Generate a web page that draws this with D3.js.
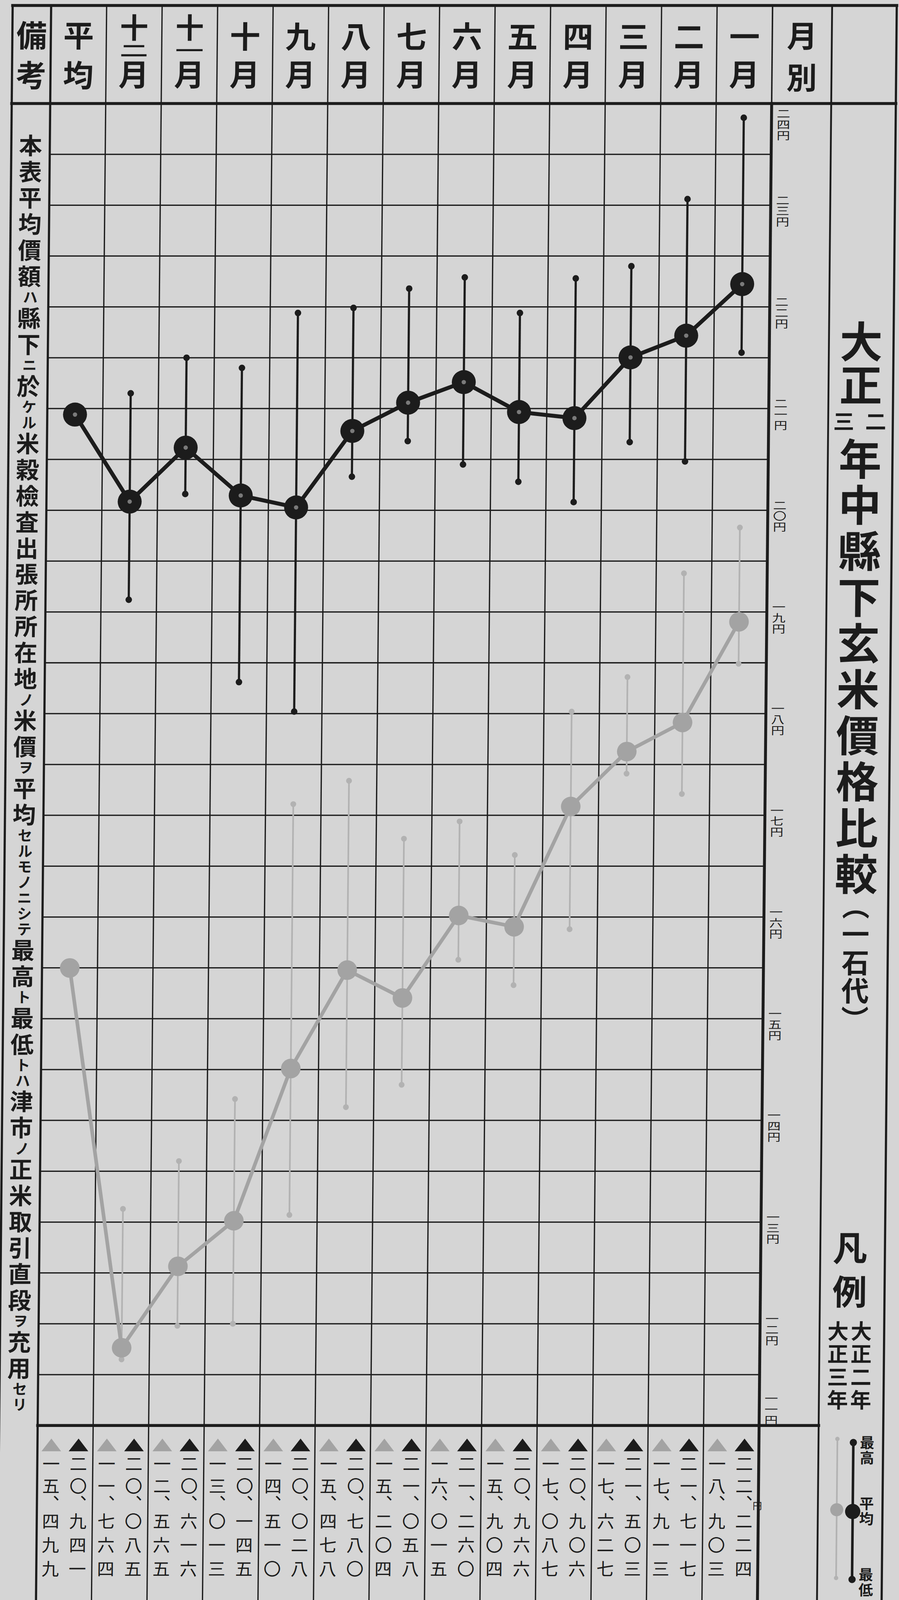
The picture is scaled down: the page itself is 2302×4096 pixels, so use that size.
<!DOCTYPE html>
<html lang="ja"><head><meta charset="utf-8">
<script src="https://cdn.jsdelivr.net/npm/d3@7/dist/d3.min.js"></script>
<style>
html,body{margin:0;padding:0;background:#d5d5d5;overflow:hidden}
svg{display:block}
</style></head><body>
<svg id="chart" width="2302" height="4096" viewBox="0 0 2302 4096"></svg>
<script>
// ---------------- data ----------------
const months = ['平均','十二月','十一月','十月','九月','八月','七月','六月','五月','四月','三月','二月','一月'];
// 大正二年 (dark)
const avgT2 = [20.941, 20.085, 20.616, 20.145, 20.028, 20.780, 21.058, 21.260, 20.966, 20.906, 21.503, 21.717, 22.224];
const maxT2 = [null, 21.15, 21.50, 21.40, 21.94, 21.99, 22.18, 22.29, 21.94, 22.28, 22.40, 23.06, 23.86];
const minT2 = [null, 19.12, 20.16, 18.31, 18.02, 20.33, 20.68, 20.45, 20.28, 20.08, 20.67, 20.48, 21.55];
// 大正三年 (light)
const avgT3 = [15.499, 11.764, 12.565, 13.013, 14.510, 15.478, 15.204, 16.015, 15.904, 17.087, 17.627, 17.913, 18.903];
const maxT3 = [null, 13.13, 13.60, 14.21, 17.11, 17.34, 16.77, 16.94, 16.61, 18.02, 18.36, 19.38, 19.83];
const minT3 = [null, 11.65, 11.98, 12.00, 13.07, 14.13, 14.35, 15.58, 15.33, 15.88, 17.41, 17.21, 18.49];
// y axis
const yTickValues = [24,23,22,21,20,19,18,17,16,15,14,13,12,11];
const yTickLabels = ['二四円','二三円','二二円','二一円','二〇円','一九円','一八円','一七円','一六円','一五円','一四円','一三円','一二円','一一円'];
// texts
const titleMain1 = '大正';
const titleSmall = ['三','二'];
const titleMain2 = '年中縣下玄米價格比較';
const titleUnit = '（一石代）';
const remark = '本表平均價額ハ縣下ニ於ケル米穀檢査出張所所在地ノ米價ヲ平均セルモノニシテ最高ト最低トハ津市ノ正米取引直段ヲ充用セリ';
const legendHead = '凡例';
const legendYears = ['大正三年','大正二年'];
const legendItems = ['最高','平均','最低'];
const kanjiDigits = ['〇','一','二','三','四','五','六','七','八','九'];

// ---------------- setup ----------------
const S = 2302/2476, SH = -0.0095;
const INK = '#1c1c1c', PAPER = '#d5d5d5';
const LIGHT = '#a3a3a3', LIGHT_W = '#b2b2b2';
const FONT = "'Noto Sans CJK JP','Noto Sans CJK SC',sans-serif";

const svg = d3.select('#chart');
svg.append('rect').attr('width',2302).attr('height',4096).attr('fill',PAPER);
const g = svg.append('g').attr('transform',`scale(${S}) matrix(1,0,${SH},1,0,0)`)
  .attr('font-family',FONT);

const L0=35, L1=141, L14=2128, L15=2292, L16=2470, TOP=15, HB=285, PB=3925, BOT=4420;

const x = d3.scaleBand().domain(months).range([L1,L14]);
const bw = x.bandwidth();
const xc = m => x(m)+bw/2;
const y = d3.scaleLinear().domain([11,24]).range([PB,HB]);

function ln(x1,y1,x2,y2,w,c){ g.append('line').attr('x1',x1).attr('y1',y1).attr('x2',x2).attr('y2',y2)
  .attr('stroke',c||INK).attr('stroke-width',w).attr('stroke-linecap','square'); }
// one upright character, its cell centred on (cx,cy)
function ch(t,cx,cy,size,opt){ opt=opt||{};
  const e = g.append('text').attr('x',cx).attr('y',cy).attr('font-size',size)
    .style('writing-mode','vertical-rl').attr('text-anchor','middle')
    .attr('fill',opt.fill||INK).attr('font-weight',opt.weight||400).text(t);
  if(opt.sy) e.attr('transform',`translate(${cx},${cy}) scale(1,${opt.sy}) translate(${-cx},${-cy})`);
  return e; }

// ---------------- grid ----------------
g.append('g').selectAll('line').data(d3.range(11.5,24,0.5)).join('line')
  .attr('x1',L1).attr('x2',L14).attr('y1',d=>y(d)).attr('y2',d=>y(d))
  .attr('stroke',INK).attr('stroke-width',3.5);
g.append('g').selectAll('line').data(months.slice(1)).join('line')
  .attr('x1',d=>x(d)).attr('x2',d=>x(d)).attr('y1',TOP).attr('y2',BOT)
  .attr('stroke',INK).attr('stroke-width',3.5);

// borders
ln(L0,TOP,L16,TOP,8);
ln(L0,TOP,L0,BOT,6);
ln(L16,TOP,L16,BOT,6);
ln(L0,HB,L16,HB,8);
ln(L1,TOP,L1,BOT,6);
ln(L14,TOP,L14,HB,4);
ln(L14,HB,L14,BOT,8);
ln(L15,TOP,L15,BOT,5);
ln(L1,PB,L15,PB,8);

// ---------------- header ----------------
const HW = 700;
ch('備',(L0+L1)/2,97,84,{weight:HW}); ch('考',(L0+L1)/2,207,84,{weight:HW});
months.forEach(m=>{
  const cx = xc(m);
  if(m.endsWith('月')){
    const first = m.slice(0,m.length-1);
    if(first.length===2){
      ch(first[0],cx,76,78,{weight:HW});
      ch(first[1],cx,139,78,{weight:HW,sy:0.55});
    } else ch(first,cx,100,84,{weight:HW});
    ch('月',cx,205,84,{weight:HW});
  } else { ch(m[0],cx,97,84,{weight:HW}); ch(m[1],cx,207,84,{weight:HW}); }
});
ch('月',(L14+L15)/2,98,84,{weight:HW}); ch('別',(L14+L15)/2,213,84,{weight:HW});

// ---------------- y axis labels ----------------
yTickValues.forEach((v,i)=>{
  const cy = v===24 ? y(v)+58 : (v===11 ? y(v)-45 : y(v)+16);
  [...yTickLabels[i]].forEach((c,k)=>ch(c,L14+33,cy+(k-1)*30,37,{sy:0.79}));
});

// ---------------- series ----------------
function drawSeries(avg,mx,mn,o){
  const data = months.map((m,i)=>({m,v:avg[i],hi:mx[i],lo:mn[i]}));
  const sg = g.append('g');
  const wd = data.filter(d=>d.hi!=null);
  sg.selectAll('line.w').data(wd).join('line').attr('class','w')
    .attr('x1',d=>xc(d.m)).attr('x2',d=>xc(d.m)).attr('y1',d=>y(d.hi)).attr('y2',d=>y(d.lo))
    .attr('stroke',o.wcol).attr('stroke-width',o.ww);
  sg.selectAll('circle.hi').data(wd).join('circle').attr('class','hi').attr('cx',d=>xc(d.m)).attr('cy',d=>y(d.hi)).attr('r',o.er).attr('fill',o.wcol);
  sg.selectAll('circle.lo').data(wd).join('circle').attr('class','lo').attr('cx',d=>xc(d.m)).attr('cy',d=>y(d.lo)).attr('r',o.er).attr('fill',o.wcol);
  sg.append('path').datum(data).attr('d',d3.line().x(d=>xc(d.m)).y(d=>y(d.v)))
    .attr('fill','none').attr('stroke',o.col).attr('stroke-width',o.lw).attr('stroke-linejoin','round');
  sg.selectAll('circle.p').data(data).join('circle').attr('class','p')
    .attr('cx',d=>xc(d.m)).attr('cy',d=>y(d.v)).attr('r',o.r).attr('fill',o.col);
  if(o.hl) sg.selectAll('circle.h').data(data).join('circle').attr('class','h')
    .attr('cx',d=>xc(d.m)).attr('cy',d=>y(d.v)).attr('r',6).attr('fill',o.hl);
}
drawSeries(avgT3,maxT3,minT3,{col:LIGHT,wcol:LIGHT_W,lw:10,ww:4.5,r:27,er:8});
drawSeries(avgT2,maxT2,minT2,{col:INK,wcol:INK,lw:11,ww:6,r:33,er:9,hl:'#7a7a7a'});

// ---------------- bottom table ----------------
function toKanji(v){ const s=v.toFixed(3).split('.'); return [...s[0]].map(d=>kanjiDigits[+d]).concat([...s[1]].map(d=>kanjiDigits[+d])); }
const rowY = [4030,4092,4188,4254,4320];
months.forEach((m,i)=>{
  [[avgT3[i],0.25,LIGHT],[avgT2[i],0.74,INK]].forEach(([v,fr,col],k)=>{
    const cx = x(m)+bw*fr;
    g.append('path').attr('d','M-27,17L0,-18L27,17Z').attr('transform',`translate(${cx},3979)`).attr('fill',col);
    toKanji(v).forEach((c,j)=>ch(c,cx,rowY[j],48));
    ch('、',cx,4140,48);
    if(k===1 && i===months.length-1) ch('円',cx+37,4146,26);
  });
});

// ---------------- remark column ----------------
(function(){
  const cx = (L0+L1)/2;
  let yy = 365;
  [...remark].forEach(c=>{
    const kana = /[\u30A0-\u30FF]/.test(c);
    const p = kana?43:72;
    ch(c, cx+(kana?3:0), yy+p/2, kana?41:64, {weight:700});
    yy += p;
  });
})();

// ---------------- title column ----------------
const colC = (L15+L16)/2;
(function(){
  const TW = 700;
  ch(titleMain1[0],colC,940,118,{weight:TW});
  ch(titleMain1[1],colC,1060,118,{weight:TW});
  ch(titleSmall[0],colC-46,1160,58,{weight:TW});
  ch(titleSmall[1],colC+42,1160,58,{weight:TW});
  [...titleMain2].forEach((c,i)=>ch(c,colC,1263+i*127,118,{weight:TW}));
  [...titleUnit].forEach((c,i)=>ch(c,colC,2494+i*78,76,{weight:TW}));
})();

// legend
[...legendHead].forEach((c,i)=>ch(c,colC-7,3436+i*120,95,{weight:700}));
[...legendYears[0]].forEach((c,i)=>ch(c,colC-38,3665+i*63,58,{weight:700}));
[...legendYears[1]].forEach((c,i)=>ch(c,colC+26,3665+i*63,58,{weight:700}));
// light legend bar
ln(colC-37,3962,colC-37,4345,4.5,LIGHT_W);
g.append('circle').attr('cx',colC-37).attr('cy',3962).attr('r',6).attr('fill',LIGHT_W);
g.append('circle').attr('cx',colC-37).attr('cy',4345).attr('r',6).attr('fill',LIGHT_W);
g.append('circle').attr('cx',colC-37).attr('cy',4157).attr('r',18).attr('fill',LIGHT);
// dark legend bar
ln(colC+7,3972,colC+7,4349,7);
g.append('circle').attr('cx',colC+7).attr('cy',3972).attr('r',10).attr('fill',INK);
g.append('circle').attr('cx',colC+7).attr('cy',4349).attr('r',10).attr('fill',INK);
g.append('circle').attr('cx',colC+7).attr('cy',4162).attr('r',21).attr('fill',INK);
const liTop = [3972,4140,4336];
legendItems.forEach((t,i)=>[...t].forEach((c,j)=>ch(c,colC+45,liTop[i]+j*42,40,{weight:700})));
</script>
</body></html>
